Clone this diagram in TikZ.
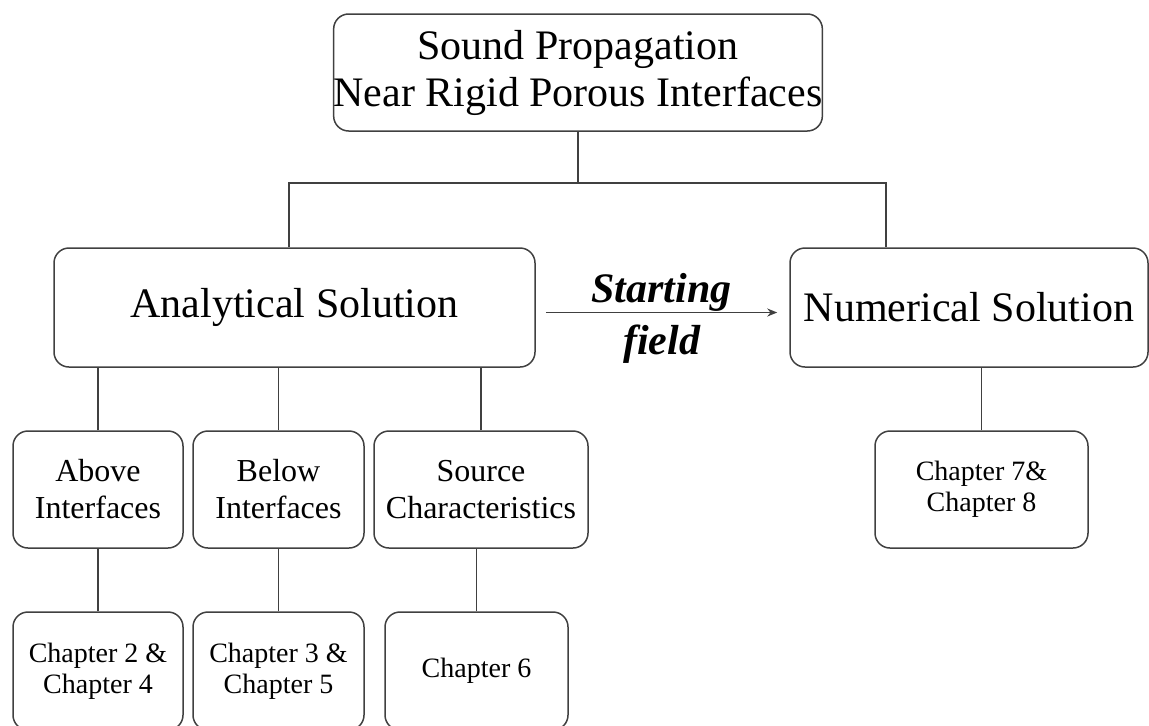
\documentclass[tikz,border=0pt]{standalone}
\usepackage{fontspec}
\setmainfont{Liberation Serif}
\usepackage{tikz}
\usetikzlibrary{arrows.meta}

\begin{document}
\begin{tikzpicture}[x=0.5pt, y=-0.5pt,
  Topic/.style={draw=black!75, line width=0.75pt, align=center, rounded corners=7.5pt, inner sep=0pt},
  Branch/.style={Topic, minimum height=59.5pt, font=\fontsize{21}{23.5}\selectfont},
  Leaf/.style={Topic, minimum height=58.5pt, font=\fontsize{16}{18.5}\selectfont},
  Chapter/.style={Topic, minimum height=59pt, font=\fontsize{14}{15.5}\selectfont},
  Link/.style={draw=black!75, line width=0.75pt},
  Feed/.style={Link, line width=0.9pt, -{Stealth[length=5pt, width=4pt]}}]

\clip (0, 0) rectangle (1149, 725);

\node [Branch, minimum width=212.5pt, minimum height=58.5pt] (top) at (578, 72.5) {Sound Propagation\\Near Rigid Porous Interfaces};

\node [Branch, minimum width=240.5pt] (ana) at (294.5, 307.5) {Analytical Solution};
\node [Branch, minimum width=179pt] (num) at (969, 307.5) {Numerical Solution};

\coordinate (busL) at (289, 183);
\coordinate (busR) at (886, 183);

\draw [Link] (top.south) -- (top.south |- busL);
\draw [Link] (ana.north -| busL) -- (busL) -- (busR) -- (busR |- num.north);

\foreach \pos/\name/\boxw/\txt in {98/above/85/{Above\\Interfaces}, 278.5/below/85.5/{Below\\Interfaces}, 481/source/107/{Source\\Characteristics}} {
  \node [Leaf, minimum width=\boxw pt] (\name) at (\pos, 489.5) {\txt};
  \draw [Link] (\name.north) -- (\name.north |- ana.south);
}

\node [Leaf, minimum width=106.5pt, font=\fontsize{14}{15.5}\selectfont] (ch78) at (981.5, 489.5) {Chapter 7\&\\Chapter 8};
\draw [Link] (ch78.north) -- (ch78.north |- num.south);

\foreach \pos/\name/\up/\boxw/\txt in {98/ch24/above/85/{Chapter 2 \&\\Chapter 4}, 278.5/ch35/below/85.5/{Chapter 3 \&\\Chapter 5}, 476.5/ch6/source/91.5/{Chapter 6}} {
  \node [Chapter, minimum width=\boxw pt] (\name) at (\pos, 671) {\txt};
  \draw [Link] (\name.north) -- (\name.north |- \up.south);
}

\draw [Feed] ([shift={(10,5)}]ana.east) -- ([shift={(-12,5)}]num.west)
  node [midway, above, inner sep=0pt, font=\fontsize{21}{23.5}\selectfont\bfseries\itshape] {Starting}
  node [midway, below=6pt, inner sep=0pt, font=\fontsize{21}{23.5}\selectfont\bfseries\itshape] {field};
\end{tikzpicture}
\end{document}
